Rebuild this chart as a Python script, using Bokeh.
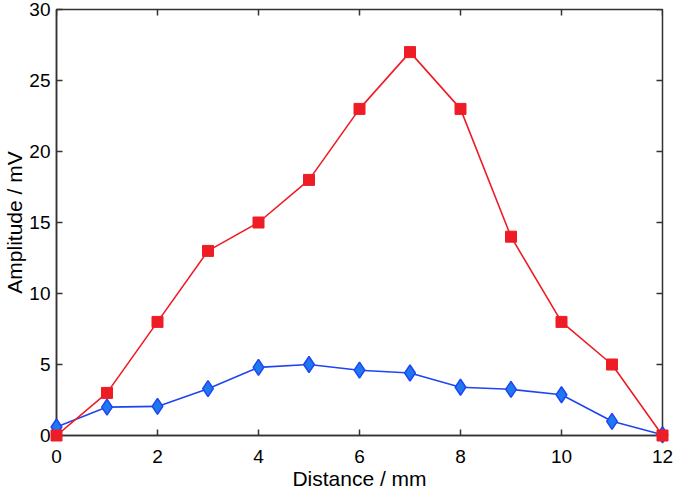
import math
from bokeh.plotting import figure
from bokeh.models import Range1d, FixedTicker
from bokeh.embed import file_html
from bokeh.resources import INLINE

distance = [0, 1, 2, 3, 4, 5, 6, 7, 8, 9, 10, 11, 12]
red_amp = [0, 3, 8, 13, 15, 18, 23, 27, 23, 14, 8, 5, 0]
blue_amp = [0.6, 2.0, 2.05, 3.3, 4.8, 5.0, 4.6, 4.4, 3.4, 3.25, 2.87, 1.0, 0.05]
x_ticks = [0, 2, 4, 6, 8, 10, 12]
y_ticks = [0, 5, 10, 15, 20, 25, 30]
x_min, x_max = 0, 12
y_min, y_max = 0, 30

FONT = "Liberation Sans"
RED = "#EE1C25"
BLUE_LINE = "#1F45F2"
BLUE_FILL = "#1E78F0"
DARK = "#333333"

p = figure(width=675, height=492, output_backend="svg", toolbar_location=None,
           x_range=Range1d(x_min, x_max), y_range=Range1d(y_min, y_max),
           min_border_left=4, min_border_right=13, min_border_top=9, min_border_bottom=0)
p.grid.visible = False
p.outline_line_color = DARK
p.outline_line_width = 1.5
p.background_fill_color = "white"
p.border_fill_color = "white"

# inward ticks on the top and right edges (mirrors of the bottom/left axes)
p.scatter(x_ticks, [y_max] * len(x_ticks), marker="dash", angle=math.pi / 2, size=12,
          line_color=DARK, line_width=1.5)
p.scatter([x_max] * len(y_ticks), y_ticks, marker="dash", size=12,
          line_color=DARK, line_width=1.5)

p.line(distance, blue_amp, line_color=BLUE_LINE, line_width=1.6)
p.scatter(distance, blue_amp, marker="diamond", size=16, fill_color=BLUE_FILL,
          line_color=BLUE_LINE, line_width=1.5, level="overlay")
p.line(distance, red_amp, line_color=RED, line_width=1.6)
p.scatter(distance, red_amp, marker="square", size=11, fill_color=RED, line_color=RED,
          level="overlay")

for ax in [p.xaxis[0], p.yaxis[0]]:
    ax.major_tick_in = 6
    ax.major_tick_out = 0
    ax.minor_tick_in = 0
    ax.minor_tick_out = 0
    ax.axis_line_color = DARK
    ax.axis_line_width = 1.5
    ax.major_tick_line_color = DARK
    ax.major_tick_line_width = 1.5
    ax.major_label_text_font = FONT
    ax.major_label_text_font_size = "19px"
    ax.major_label_text_color = "black"
    ax.axis_label_text_font = FONT
    ax.axis_label_text_font_size = "21px"
    ax.axis_label_text_font_style = "normal"
    ax.axis_label_text_color = "black"

p.xaxis[0].ticker = FixedTicker(ticks=x_ticks)
p.yaxis[0].ticker = FixedTicker(ticks=y_ticks)
p.xaxis[0].axis_label = "Distance / mm"
p.yaxis[0].axis_label = "Amplitude / mV"
p.xaxis[0].major_label_standoff = 14
p.yaxis[0].major_label_standoff = 6
p.xaxis[0].axis_label_standoff = 1
p.yaxis[0].axis_label_standoff = 0

open("out.html", "w").write(file_html(p, INLINE))
